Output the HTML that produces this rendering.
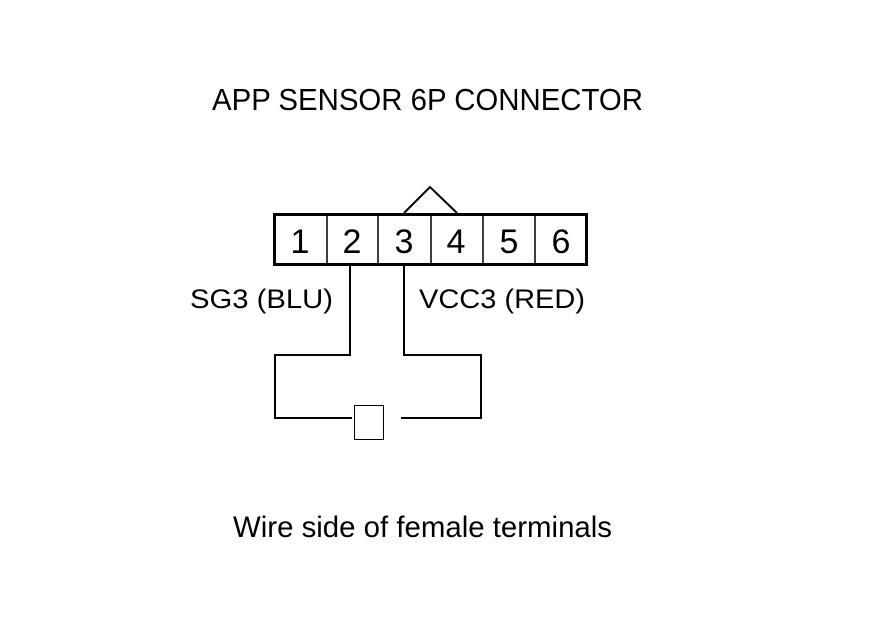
<!DOCTYPE html>
<html><head><meta charset="utf-8"><style>
html,body{margin:0;padding:0;background:#fff;}
svg{display:block;}
text{font-family:"Liberation Sans",Arial,sans-serif;fill:#000;}
</style></head><body>
<svg width="880" height="630" viewBox="0 0 880 630" xmlns="http://www.w3.org/2000/svg">
<rect width="880" height="630" fill="#fff"/>
<text x="212" y="110" font-size="31" textLength="431" lengthAdjust="spacingAndGlyphs">APP SENSOR 6P CONNECTOR</text>
<polyline points="404,213 430,187 457,213" fill="none" stroke="#000" stroke-width="2"/>
<rect x="274.5" y="214.5" width="312" height="50" fill="#fff" stroke="#000" stroke-width="3"/>
<g stroke="#000" stroke-width="1.5">
<line x1="327" y1="215" x2="327" y2="264"/>
<line x1="378" y1="215" x2="378" y2="264"/>
<line x1="431" y1="215" x2="431" y2="264"/>
<line x1="483" y1="215" x2="483" y2="264"/>
<line x1="535" y1="215" x2="535" y2="264"/>
</g>
<g font-size="34" text-anchor="middle">
<text x="300" y="253">1</text>
<text x="352" y="253">2</text>
<text x="404" y="253">3</text>
<text x="456" y="253">4</text>
<text x="509" y="253">5</text>
<text x="561" y="253">6</text>
</g>
<text x="190" y="308" font-size="27" textLength="143" lengthAdjust="spacingAndGlyphs">SG3 (BLU)</text>
<text x="419" y="308" font-size="27" textLength="166" lengthAdjust="spacingAndGlyphs">VCC3 (RED)</text>
<g fill="none" stroke="#000" stroke-width="2">
<polyline points="350,266 350,355 275,355 275,418 352,418"/>
<polyline points="404,266 404,355 481,355 481,418 401,418"/>
</g>
<rect x="354.5" y="405.5" width="29" height="34" fill="#fff" stroke="#000" stroke-width="1"/>
<text x="233" y="537" font-size="30" textLength="379" lengthAdjust="spacingAndGlyphs">Wire side of female terminals</text>
</svg>
</body></html>
